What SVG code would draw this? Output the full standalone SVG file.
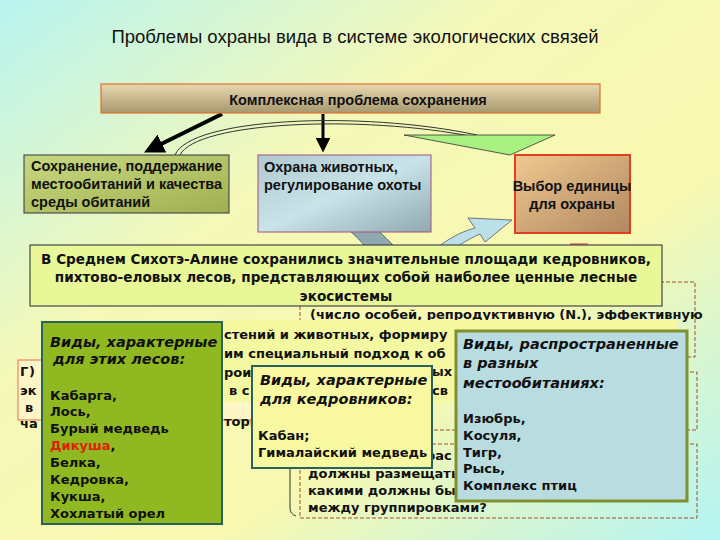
<svg xmlns="http://www.w3.org/2000/svg" width="720" height="540" viewBox="0 0 720 540">
<defs>
<linearGradient id="bg" x1="0" y1="0" x2="1" y2="1"><stop offset="0" stop-color="#b8f4f0"/><stop offset="0.35" stop-color="#f4f8b8"/><stop offset="0.65" stop-color="#f8f8b0"/><stop offset="1" stop-color="#b4f4f4"/></linearGradient>
<linearGradient id="tan" x1="0" y1="0" x2="0" y2="1"><stop offset="0" stop-color="#e8d8b0"/><stop offset="1" stop-color="#a89870"/></linearGradient>
<linearGradient id="grn" x1="0" y1="0" x2="1" y2="1"><stop offset="0" stop-color="#c8d880"/><stop offset="1" stop-color="#a0b050"/></linearGradient>
<linearGradient id="blu" x1="0" y1="0" x2="1" y2="1"><stop offset="0" stop-color="#b0c8d0"/><stop offset="0.5" stop-color="#c8e4e8"/><stop offset="1" stop-color="#90a8b0"/></linearGradient>
<linearGradient id="org" x1="0" y1="0" x2="1" y2="1"><stop offset="0" stop-color="#f0c890"/><stop offset="1" stop-color="#b08860"/></linearGradient>
<marker id="ah" markerWidth="5" markerHeight="5" refX="2.5" refY="2.5" orient="auto"><path d="M0,0 L5,2.5 L0,5 z" fill="#000"/></marker>
<style>
text{font-family:"DejaVu Sans",Verdana,sans-serif;font-weight:bold;font-size:13px;fill:#111}
.a{font-family:"Liberation Sans",Arial,sans-serif;font-size:14.5px}
.t{font-family:"Liberation Sans",Arial,sans-serif;font-weight:normal;font-size:18.5px}
.i{font-style:italic;font-size:14.5px}
.m{font-size:13.6px}
.dash{fill:none;stroke:#a05030;stroke-width:1;stroke-dasharray:4,2}
</style>
</defs>
<rect width="720" height="540" fill="url(#bg)"/>
<text class="t" x="355" y="43" text-anchor="middle">Проблемы охраны вида в системе экологических связей</text>

<g id="connectors">
<line x1="222" y1="114" x2="153" y2="148" stroke="#000" stroke-width="4" marker-end="url(#ah)"/>
<line x1="323" y1="114" x2="323" y2="145" stroke="#000" stroke-width="3" marker-end="url(#ah)"/>
<path d="M175,155 C190,118 360,110 477,135" fill="none" stroke="#333" stroke-width="1"/>
<path d="M180,155 C196,122 360,114 475,137" fill="none" stroke="#333" stroke-width="1"/>
<polygon points="404,135 555,135 510,155" fill="#a8f080" stroke="#333" stroke-width="0.8"/>
<path d="M330,217 L365,217 C378,230 388,240 398,250 L370,254 C362,240 348,228 330,217 z" fill="#90a8b0" stroke="#556" stroke-width="0.8"/>
<path d="M430,254 C445,240 460,232 475,228 L468,218 L512,220 L485,242 L480,234 C466,240 455,248 448,254 z" fill="#bce0e8" stroke="#556" stroke-width="0.8"/>
</g>

<g id="top"><rect x="101" y="84" width="499" height="29" fill="url(#tan)" stroke="#e07030" stroke-width="1.2"/>
<text class="a" x="358" y="105" text-anchor="middle" font-size="18">Комплексная проблема сохранения</text></g>

<g id="n1"><rect x="24" y="155" width="205" height="58" fill="url(#grn)" stroke="#334"/>
<text class="a" x="31" y="171">Сохранение, поддержание</text><text class="a" x="31" y="189">местообитаний и качества</text><text class="a" x="31" y="207">среды обитаний</text></g>
<g id="n2"><rect x="258" y="155" width="173" height="77" fill="url(#blu)" stroke="#a05080"/>
<text class="a" x="264" y="172">Охрана животных,</text><text class="a" x="264" y="190">регулирование охоты</text></g>
<g id="n3"><rect x="515" y="155" width="115" height="78" fill="url(#org)" stroke="#e04020" stroke-width="2"/>
<text class="a" x="572" y="191" text-anchor="middle">Выбор единицы</text><text class="a" x="572" y="209" text-anchor="middle">для охраны</text></g>
<rect x="570" y="243" width="18" height="12" fill="#e89070"/>

<g id="back">
<rect x="300" y="282" width="395" height="75" class="dash"/>
<text x="310" y="319" font-size="12.5">(число особей, репродуктивную (N.), эффективную</text>
<rect x="300" y="372" width="397" height="58" class="dash"/>
<rect x="300" y="444" width="397" height="74" class="dash"/>
<path d="M296,450 Q290,452 290,460 L290,508 Q290,514 296,516" fill="none" stroke="#333"/>
<text x="308" y="478">должны размещаться</text><text x="308" y="495">какими должны быть</text><text x="308" y="512">между группировками?</text>
<text x="426" y="460">рас</text>
<rect x="18" y="360" width="240" height="60" fill="#fff6c8" stroke="#e07050"/>
<text x="20" y="376" fill="#d02000">Г</text><text x="29" y="376">)</text><text x="20" y="395">эк</text><text x="25" y="412">в</text><text x="20" y="428">ча</text>
<rect x="42" y="320" width="636" height="82" fill="#f4f8a0"/>
<text x="224" y="339" font-size="14">стений и животных, формиру</text>
<text x="224" y="358" font-size="14">им специальный подход к об</text>
<text x="224" y="377" font-size="14">рои</text>
<text x="229" y="395" font-size="14">в с</text>
<text x="432" y="376" font-size="14">ых</text><text x="432" y="395" font-size="14">св</text>
<text x="224" y="426" font-size="14">тори</text>
</g>

<g id="main"><rect x="30" y="245" width="632" height="61" fill="#e8f898" stroke="#223"/>
<text class="m" x="346" y="264" text-anchor="middle">В Среднем Сихотэ-Алине сохранились значительные площади кедровников,</text>
<text class="m" x="346" y="282" text-anchor="middle">пихтово-еловых лесов, представляющих собой наиболее ценные лесные</text>
<text class="m" x="346" y="301" text-anchor="middle">экосистемы</text></g>

<g id="green"><rect x="42" y="322" width="180" height="202" fill="#90b820" stroke="#2a6060" stroke-width="2"/>
<text class="i" x="50" y="347">Виды, характерные</text><text class="i" x="53" y="364"> для этих лесов:</text>
<text x="50" y="400">Кабарга,</text><text x="50" y="416">Лось,</text><text x="50" y="433">Бурый медведь</text>
<text x="50" y="450"><tspan fill="#e02000">Дикуша</tspan>,</text><text x="50" y="467">Белка,</text><text x="50" y="484">Кедровка,</text><text x="50" y="501">Кукша,</text><text x="50" y="518">Хохлатый орел</text></g>

<g id="yellow"><rect x="252" y="366" width="180" height="102" fill="#f8f8a0" stroke="#2a6060" stroke-width="2"/>
<text class="i" x="260" y="385">Виды, характерные</text><text class="i" x="260" y="404">для кедровников:</text>
<text x="258" y="440">Кабан;</text><text x="258" y="457">Гималайский медведь</text></g>

<g id="blue"><rect x="456" y="331" width="231" height="170" fill="#b8dce0" stroke="#80902c" stroke-width="3"/>
<text class="i" x="463" y="349">Виды, распространенные</text><text class="i" x="463" y="368">в разных</text><text class="i" x="463" y="388">местообитаниях:</text>
<text x="463" y="423">Изюбрь,</text><text x="463" y="440">Косуля,</text><text x="463" y="457">Тигр,</text><text x="463" y="473">Рысь,</text><text x="463" y="490">Комплекс птиц</text></g>
</svg>
